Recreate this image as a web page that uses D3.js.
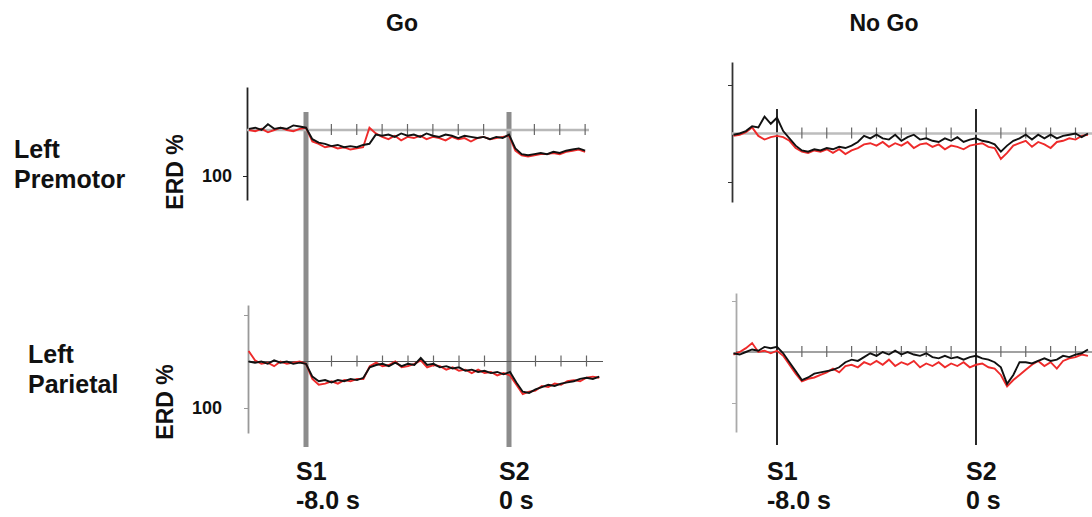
<!DOCTYPE html>
<html>
<head>
<meta charset="utf-8">
<script src="https://cdn.jsdelivr.net/npm/d3@7"></script>
<style>
  body { margin: 0; background: #fff; }
  svg text { font-family: Arial, "Liberation Sans", sans-serif; font-weight: bold; fill: #111; }
</style>
</head>
<body>
<svg id="chart" width="1092" height="517"></svg>
<script>
// sample grid, seconds relative to S2
const goStart = -10.25
const noGoStart = -9.75
const step = 0.25

// ERD traces (baseline = 120)
const goPremotorBlack = [
  120.5, 121, 120, 122.5, 120.5, 121, 120.5, 122, 121.5, 121,
  116, 114.5, 114, 113, 113.5, 112.5, 113, 112.5, 113.5, 114,
  118, 117.5, 118, 117, 118.5, 117.5, 118, 117, 118.5, 117.5, 117, 118, 117.5, 116.5, 117.5, 117, 116.5, 117, 116, 117, 116.5, 118,
  112, 109.5, 109, 109.5, 110, 109.5, 110.5, 110, 111, 111.5, 112, 111
]
const goPremotorRed = [
  120, 119.5, 120.5, 119, 120, 121, 120, 119.5, 120.5, 121,
  115, 114, 112.5, 113, 112, 112.5, 111.5, 112, 112.5, 121,
  118.5, 117, 116, 117.5, 115.5, 117, 116.5, 117.5, 116, 117, 116.5, 115.5, 117, 116, 116.5, 115, 116.5, 117, 116, 116.5, 117, 117.5,
  111, 109, 108.5, 109, 109.5, 109.5, 110, 109.5, 110.5, 111, 111.5, 110.5
]
const goParietalBlack = [
  120, 119.5, 120, 119, 120.5, 119.5, 120, 119, 119.5, 119,
  113.5, 111.5, 112, 111, 112, 111.5, 112.5, 112,
  113, 117.5, 118.5, 119, 118, 119.5, 118, 119, 118.5, 121.5, 118.5, 119, 117.5, 118, 117, 117.5, 116, 116.5, 115.5, 116, 115, 115.5, 114.5, 115.5,
  111, 107, 106.5, 108, 109, 110, 109.5, 110.5, 111, 111.5, 112.5, 113, 112.5, 113.5
]
const goParietalRed = [
  124.5, 120.5, 119, 119.5, 118, 120, 119, 119.5, 120, 119,
  112.5, 110, 110.5, 111.5, 110.5, 112, 111.5, 112.5,
  112.5, 118, 119.5, 118, 118.5, 120, 117.5, 118, 119, 120.5, 117.5, 118.5, 118, 116.5, 117.5, 116, 116.5, 115, 116.5, 115, 115.5, 114, 115, 114,
  110, 106, 107, 107.5, 109.5, 109, 110.5, 110, 111.5, 112, 111.5, 113, 113.5, 113
]
const noGoPremotorBlack = [
  119.5, 120, 121, 123, 122.5, 127, 124, 126.5,
  121, 118,
  115, 113, 112.5, 113.5, 113, 114, 113.5, 114.5, 114, 115, 116.5, 119,
  118, 119.5, 118, 117.5, 119.5, 117, 118.5, 119.5, 117.5, 118, 117, 116.5, 118, 117, 118.5, 116.5, 117.5, 118,
  117, 116.5, 115.5, 112.5, 115, 117, 118, 119.5, 117.5, 119.5, 118, 119.5, 118, 119, 119.5, 120, 118.5, 120
]
const noGoPremotorRed = [
  119, 119.5, 120.5, 122.5, 119, 117.5, 118.5, 119,
  118.5, 117,
  114, 112.5, 112, 113, 112.5, 113.5, 112, 113.5, 111.5, 113, 114, 115.5,
  116, 115, 116.5, 114.5, 116, 115, 116.5, 114, 115.5, 116, 114.5, 115.5, 113.5, 115, 114.5, 113.5, 115, 115.5,
  116, 114.5, 114, 109.5, 112, 115, 116, 117, 114.5, 116.5, 115.5, 114, 116.5, 117, 118, 117.5, 119, 119.5
]
const noGoParietalBlack = [
  119.5, 119, 120, 121, 120.5, 122, 121.5, 122,
  119.5, 116, 112.5, 109, 110, 111.5, 112, 112.5, 113, 114, 116, 117, 116.5, 118, 119.5, 118.5,
  120, 119, 120.5, 119, 120, 119, 118.5, 119.5, 118, 117.5, 118.5, 117.5, 118, 117, 118, 118.5,
  117.5, 117, 116, 114, 107.5, 111, 116, 116, 115.5, 116.5, 117.5, 116.5, 117, 118.5, 118, 119, 119.5, 121
]
const noGoParietalRed = [
  119, 120, 121.5, 123.5, 120, 120.5, 119.5, 120.5,
  118.5, 115, 111.5, 108.5, 109.5, 110, 111, 112, 113.5, 112, 114.5, 115, 114, 116, 115, 116.5,
  115, 117, 114.5, 116, 115, 116.5, 114, 115.5, 114.5, 116, 114, 115.5, 114.5, 116, 114, 115,
  115.5, 114, 113.5, 111, 106.5, 109, 111, 113, 115, 116.5, 114.5, 116, 113.5, 116.5, 117.5, 118, 119, 118.5
]

const columnTitles = ['Go', 'No Go']
const rowTitles = [['Left', 'Premotor'], ['Left', 'Parietal']]
const eventTimes = [-8, 0]
const eventLabels = [['S1', '-8.0 s'], ['S2', '0 s']]
const secondTicks = [-7, -6, -5, -4, -3, -2, -1, 1, 2, 3, 4]
const baselineValue = 120
const yLabel = 'ERD %'

const svg = d3.select('#chart')

// layout of the four panels
const panels = [
  { black: goPremotorBlack, red: goPremotorRed, start: goStart, xAxis: 247, xEnd: 589, s1: 306, s2: 509,
    y100: 176, y140: 84, yTop: 87, yBottom: 200, axisColor: '#222', ticks: [100], tickLabels: true, pad: 11,
    baseColor: '#b8b8b8', baseWidth: 2.5 },
  { black: goParietalBlack, red: goParietalRed, start: goStart, xAxis: 248, xEnd: 603, s1: 306, s2: 510,
    y100: 408, y140: 315, yTop: 305, yBottom: 433, axisColor: '#999', ticks: [100, 140], tickLabels: true, pad: 22,
    baseColor: '#555', baseWidth: 1.2 },
  { black: noGoPremotorBlack, red: noGoPremotorRed, start: noGoStart, xAxis: 732, xEnd: 1092, s1: 777, s2: 976,
    y100: 182, y140: 85, yTop: 62, yBottom: 202, axisColor: '#333', ticks: [100, 140], tickLabels: false, pad: 0,
    baseColor: '#bdbdbd', baseWidth: 2.5 },
  { black: noGoParietalBlack, red: noGoParietalRed, start: noGoStart, xAxis: 736, xEnd: 1092, s1: 777, s2: 976,
    y100: 403, y140: 301, yTop: 293, yBottom: 432, axisColor: '#aaa', ticks: [100, 140], tickLabels: false, pad: 0,
    baseColor: '#444', baseWidth: 1.2 }
]

// event markers span both rows of a column
const eventLines = [
  { s1: 306, s2: 509, top: 112, bottom: 447, color: '#8c8c8c', width: 5 },
  { s1: 777, s2: 976, top: 109, bottom: 445, color: '#111', width: 1.8 }
]

eventLines.forEach(ev => {
  const x = d3.scaleLinear().domain(eventTimes).range([ev.s1, ev.s2])
  svg.append('g').selectAll('line')
    .data(eventTimes)
    .join('line')
    .attr('x1', d => x(d)).attr('x2', d => x(d))
    .attr('y1', ev.top).attr('y2', ev.bottom)
    .attr('stroke', ev.color)
    .attr('stroke-width', ev.width)

  svg.append('g').selectAll('text')
    .data(eventLabels)
    .join('text')
    .attr('x', (d, i) => x(eventTimes[i]) - 10)
    .attr('y', 480)
    .style('font-size', '25px')
    .selectAll('tspan')
    .data(d => d)
    .join('tspan')
    .attr('x', function () { return this.parentNode.getAttribute('x') })
    .attr('dy', (d, i) => i === 0 ? 0 : 29)
    .text(d => d)
})

panels.forEach(p => {
  const x = d3.scaleLinear().domain(eventTimes).range([p.s1, p.s2])
  const y = d3.scaleLinear().domain([100, 140]).range([p.y100, p.y140])
  const g = svg.append('g')

  // y axis over the full drawn extent
  const yAxisScale = y.copy().domain([y.invert(p.yBottom), y.invert(p.yTop)]).range([p.yBottom, p.yTop])
  const axis = g.append('g')
    .attr('transform', `translate(${p.xAxis},0)`)
    .call(d3.axisLeft(yAxisScale)
      .tickValues(p.ticks)
      .tickSize(4)
      .tickSizeOuter(0)
      .tickPadding(p.pad)
      .tickFormat(p.tickLabels ? d3.format('d') : () => ''))
  axis.select('.domain').attr('stroke', p.axisColor).attr('stroke-width', 1.8)
  axis.selectAll('.tick line').attr('stroke', p.axisColor)
  axis.selectAll('.tick text').filter(d => d !== 100).remove()
  axis.selectAll('.tick text').style('font-size', '18px')

  // baseline with one-second ticks
  const yb = y(baselineValue)
  g.append('line')
    .attr('x1', p.xAxis).attr('x2', p.xEnd)
    .attr('y1', yb).attr('y2', yb)
    .attr('stroke', p.baseColor)
    .attr('stroke-width', p.baseWidth)
  g.append('g').selectAll('line')
    .data(secondTicks.filter(t => x(t) < p.xEnd - 2))
    .join('line')
    .attr('x1', d => x(d)).attr('x2', d => x(d))
    .attr('y1', yb - 6).attr('y2', yb + 5)
    .attr('stroke', '#666')
    .attr('stroke-width', 1.2)

  const line = d3.line()
    .x((d, i) => x(p.start + i * step))
    .y(d => y(d))

  g.append('path')
    .datum(p.red)
    .attr('d', line)
    .attr('fill', 'none')
    .attr('stroke', '#ee2a2a')
    .attr('stroke-width', 1.9)

  g.append('path')
    .datum(p.black)
    .attr('d', line)
    .attr('fill', 'none')
    .attr('stroke', '#111')
    .attr('stroke-width', 1.9)
})

// column titles
svg.append('g').selectAll('text')
  .data(columnTitles)
  .join('text')
  .attr('x', (d, i) => [402, 884][i])
  .attr('y', 31)
  .attr('text-anchor', 'middle')
  .style('font-size', '23px')
  .text(d => d)

// row titles
const rowPos = [{ x: 14, y: 158 }, { x: 28, y: 363 }]
rowTitles.forEach((lines, r) => {
  svg.append('text')
    .attr('x', rowPos[r].x)
    .attr('y', rowPos[r].y)
    .style('font-size', '25px')
    .selectAll('tspan')
    .data(lines)
    .join('tspan')
    .attr('x', rowPos[r].x)
    .attr('dy', (d, i) => i === 0 ? 0 : 30)
    .text(d => d)
})

// y-axis titles for the Go column
const yLabelPos = [{ x: 183, y: 172 }, { x: 173, y: 402 }]
svg.append('g').selectAll('text')
  .data(yLabelPos)
  .join('text')
  .attr('transform', d => `translate(${d.x},${d.y}) rotate(-90)`)
  .attr('text-anchor', 'middle')
  .style('font-size', '23px')
  .text(yLabel)
</script>
</body>
</html>
